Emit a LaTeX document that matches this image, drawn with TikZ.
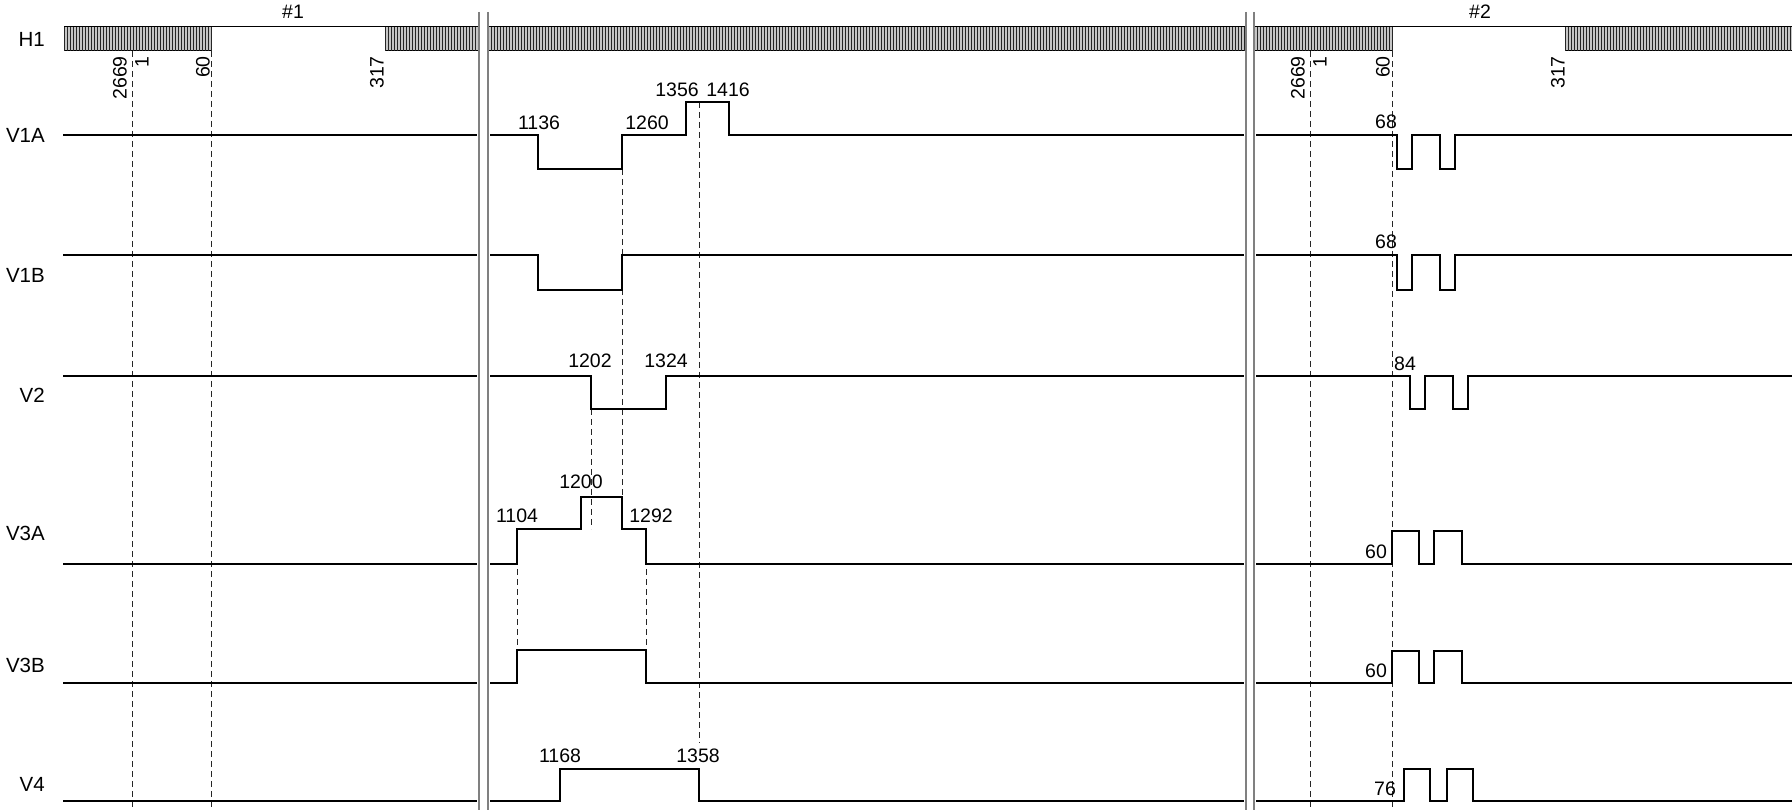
\documentclass[tikz,border=0pt]{standalone}
\usepackage{fontspec}
\setmainfont{Liberation Sans}
\begin{document}
\begin{tikzpicture}[x=1pt,y=-1pt,
  sig/.style={line width=2pt},
  guide/.style={black!85,line width=1pt,dash pattern=on 6pt off 4pt},
  sep/.style={gray,line width=2pt},
  hatchbar/.style={fill=gray!45,line width=1pt},
  hatch/.style={black!85,line width=0.7pt},
  num/.style={font=\fontsize{19.5}{19.5}\selectfont,inner sep=0pt},
  row/.style={font=\fontsize{20.5}{20.5}\selectfont,inner sep=0pt,anchor=east}]
\useasboundingbox (0,0) rectangle (1792,810);
% H1 bar
\foreach \a/\b in {64/211,385/479,488/1246,1254/1392,1565/1792}{
  \draw[hatchbar] (\a,27) rectangle (\b,51);
  \pgfmathtruncatemacro\n{(\b-\a)/3}
  \foreach \i in {0,...,\n} \draw[hatch] (\a+3*\i,27) -- (\a+3*\i,51);
}
\draw[line width=1pt] (211,27) -- (385,27);
\draw[line width=1pt] (1392,27) -- (1565,27);
\node[num] (n1) at (293,12) {\#1};
\node[num] (n2) at (1480,12) {\#2};
% guides
\foreach \x in {132,211,1310,1392} \draw[guide] (\x,51) -- (\x,810);
\draw[guide] (591,409) -- (591,529);
\draw[guide] (622,169) -- (622,497);
\draw[guide] (699,102) -- (699,743);
\draw[guide] (517,529) -- (517,650);
\draw[guide] (646,529) -- (646,650);
% separators
\foreach \x in {479,488,1246,1254} \draw[sep] (\x,12) -- (\x,810);
% row labels
\node[row] (lH1) at (45,39) {H1};
\node[row] (lV1A) at (45,135) {V1A};
\node[row] (lV1B) at (45,275) {V1B};
\node[row] (lV2) at (45,395) {V2};
\node[row] (lV3A) at (45,533) {V3A};
\node[row] (lV3B) at (45,665) {V3B};
\node[row] (lV4) at (45,784) {V4};
% H1 counts
\node[num,rotate=90,anchor=east] (h2669a) at (120,56) {2669};
\node[num,rotate=90,anchor=east] (h1a) at (142,56) {1};
\node[num,rotate=90,anchor=east] (h60a) at (203,56) {60};
\node[num,rotate=90,anchor=east] (h317a) at (377,56) {317};
\node[num,rotate=90,anchor=east] (h2669b) at (1298,56) {2669};
\node[num,rotate=90,anchor=east] (h1b) at (1320,56) {1};
\node[num,rotate=90,anchor=east] (h60b) at (1383,56) {60};
\node[num,rotate=90,anchor=east] (h317b) at (1558,56) {317};
% #1 part
\foreach \y in {135,255,376,564,683,801} \draw[sig] (63,\y) -- (477,\y);
% middle part
\draw[sig] (490,135) -- (538,135) -- (538,169) -- (622,169) -- (622,135) -- (686,135) -- (686,102) -- (729,102) -- (729,135) -- (1244,135);
\draw[sig] (490,255) -- (538,255) -- (538,290) -- (622,290) -- (622,255) -- (1244,255);
\draw[sig] (490,376) -- (591,376) -- (591,409) -- (666,409) -- (666,376) -- (1244,376);
\draw[sig] (490,564) -- (517,564) -- (517,529) -- (581,529) -- (581,497) -- (622,497) -- (622,529) -- (646,529) -- (646,564) -- (1244,564);
\draw[sig] (490,683) -- (517,683) -- (517,650) -- (646,650) -- (646,683) -- (1244,683);
\draw[sig] (490,801) -- (560,801) -- (560,769) -- (699,769) -- (699,801) -- (1244,801);
\node[num] (t1136) at (539,123) {1136};
\node[num] (t1260) at (647,123) {1260};
\node[num] (t1356) at (677,90) {1356};
\node[num] (t1416) at (728,90) {1416};
\node[num] (t1202) at (590,361) {1202};
\node[num] (t1324) at (666,361) {1324};
\node[num] (t1200) at (581,482) {1200};
\node[num] (t1104) at (517,516) {1104};
\node[num] (t1292) at (651,516) {1292};
\node[num] (t1168) at (560,756) {1168};
\node[num] (t1358) at (698,756) {1358};
% #2 part
\draw[sig] (1256,135) -- (1397,135) -- (1397,169) -- (1412,169) -- (1412,135) -- (1440,135) -- (1440,169) -- (1455,169) -- (1455,135) -- (1792,135);
\draw[sig] (1256,255) -- (1397,255) -- (1397,290) -- (1412,290) -- (1412,255) -- (1440,255) -- (1440,290) -- (1455,290) -- (1455,255) -- (1792,255);
\draw[sig] (1256,376) -- (1410,376) -- (1410,409) -- (1425,409) -- (1425,376) -- (1453,376) -- (1453,409) -- (1468,409) -- (1468,376) -- (1792,376);
\draw[sig] (1256,564) -- (1392,564) -- (1392,531) -- (1419,531) -- (1419,564) -- (1434,564) -- (1434,531) -- (1462,531) -- (1462,564) -- (1792,564);
\draw[sig] (1256,683) -- (1392,683) -- (1392,651) -- (1419,651) -- (1419,683) -- (1434,683) -- (1434,651) -- (1462,651) -- (1462,683) -- (1792,683);
\draw[sig] (1256,801) -- (1404,801) -- (1404,769) -- (1430,769) -- (1430,801) -- (1447,801) -- (1447,769) -- (1473,769) -- (1473,801) -- (1792,801);
\node[num] (s68a) at (1386,122) {68};
\node[num] (s68b) at (1386,242) {68};
\node[num] (s84) at (1405,364) {84};
\node[num] (s60a) at (1376,552) {60};
\node[num] (s60b) at (1376,671) {60};
\node[num] (s76) at (1385,789) {76};
\end{tikzpicture}
\end{document}
